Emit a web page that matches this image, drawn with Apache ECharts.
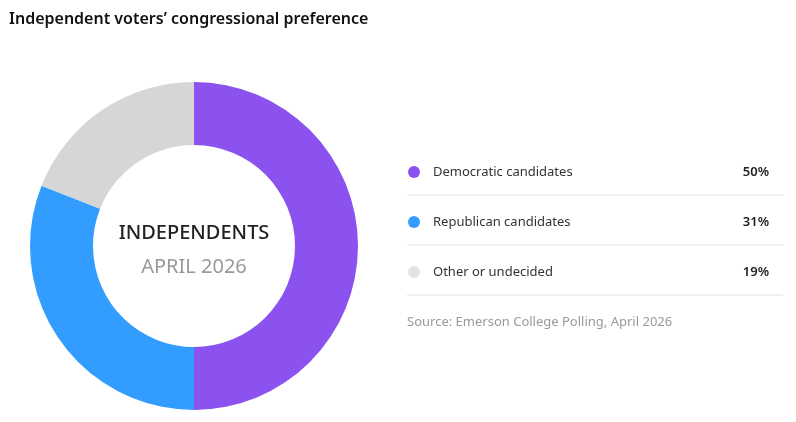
<!DOCTYPE html>
<html>
<head>
<meta charset="utf-8">
<script src="https://cdn.jsdelivr.net/npm/echarts@6/dist/echarts.min.js"></script>
<style>
  html, body { margin: 0; padding: 0; background: #fff; }
  #chart { width: 796px; height: 422px; }
</style>
</head>
<body>
<div id="chart"></div>
<script>
const categories = ['Democratic candidates', 'Republican candidates', 'Other or undecided'];
const values = [50, 31, 19];
const colors = ['#8b52ef', '#339dff', '#d6d6d6'];
const dotColors = ['#8b52ef', '#339dff', '#e3e3e3'];

const chart = echarts.init(document.getElementById('chart'));
const font = "'Segoe UI', 'Noto Sans', sans-serif";

// legend rows on the right
const legend = [];
categories.forEach((name, i) => {
    const y = 172 + i * 50;
    legend.push(
        { type: 'circle', shape: { cx: 414, cy: y, r: 6 }, style: { fill: dotColors[i] } },
        { type: 'text', x: 433, y: y, style: { text: name, fill: '#333', font: '13px ' + font, verticalAlign: 'middle' } },
        { type: 'text', x: 769, y: y, style: { text: values[i] + '%', fill: '#222', font: '600 13px ' + font, align: 'right', verticalAlign: 'middle' } },
        { type: 'line', shape: { x1: 407, y1: y + 23, x2: 783, y2: y + 23 }, style: { stroke: '#e4e4e4', lineWidth: 1 } }
    );
});

chart.setOption({
    backgroundColor: '#fff',
    animation: false,
    title: {
        text: 'Independent voters\u2019 congressional preference',
        left: 4, top: 6,
        textStyle: { fontSize: 16, fontWeight: 600, color: '#111', fontFamily: font }
    },
    series: [{
        type: 'pie',
        center: [194, 246],
        radius: [101, 164],
        startAngle: 90,
        clockwise: true,
        silent: true,
        label: { show: false },
        labelLine: { show: false },
        itemStyle: { borderColor: '#fff', borderWidth: 0 },
        data: categories.map((c, i) => ({ name: c, value: values[i], itemStyle: { color: colors[i] } }))
    }],
    graphic: [
        { type: 'text', x: 194, y: 233, style: { text: 'INDEPENDENTS', fill: '#222', font: '500 20px ' + font, align: 'center', verticalAlign: 'middle' } },
        { type: 'text', x: 194, y: 267, style: { text: 'APRIL 2026', fill: '#999', font: '20px ' + font, align: 'center', verticalAlign: 'middle' } },
        ...legend,
        { type: 'text', x: 407, y: 322, style: { text: 'Source: Emerson College Polling, April 2026', fill: '#999', font: '13px ' + font, verticalAlign: 'middle' } }
    ]
});
</script>
</body>
</html>
